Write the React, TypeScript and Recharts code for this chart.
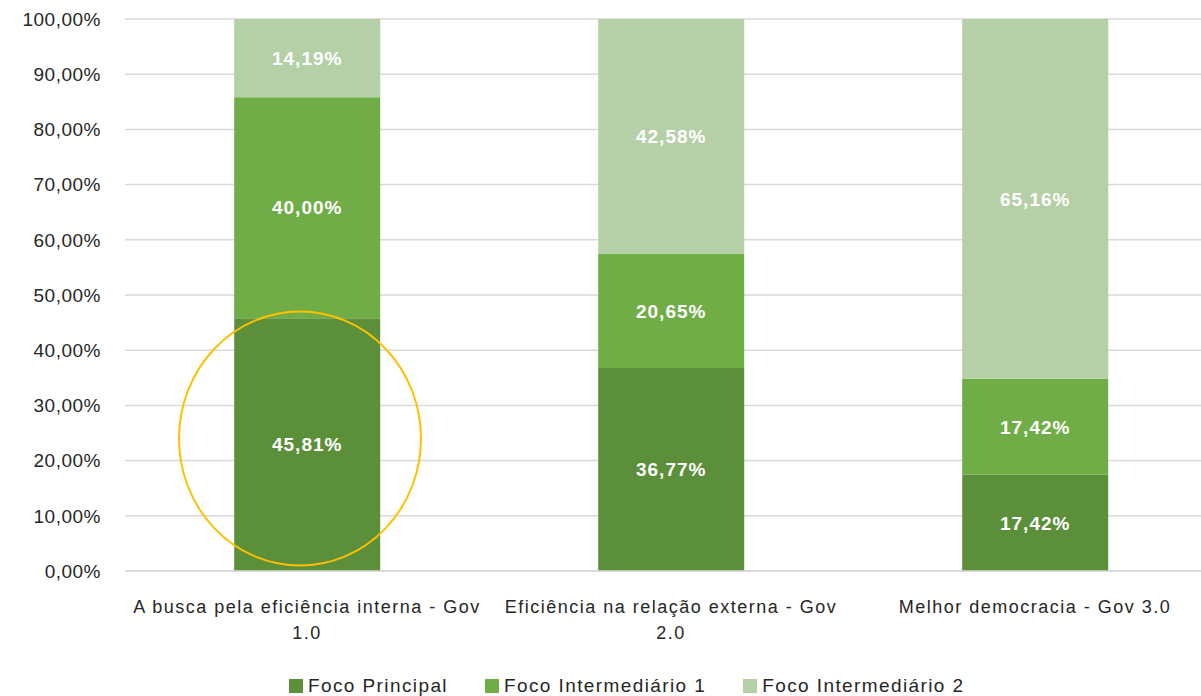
import React from 'react';
import { BarChart, Bar, XAxis, YAxis, CartesianGrid, Legend, LabelList, ReferenceDot } from 'recharts';

const categories = [
  ['A busca pela eficiência interna - Gov', '1.0'],
  ['Eficiência na relação externa - Gov', '2.0'],
  ['Melhor democracia - Gov 3.0'],
];
const focoPrincipal = [45.81, 36.77, 17.42];
const focoIntermediario1 = [40.0, 20.65, 17.42];
const focoIntermediario2 = [14.19, 42.58, 65.16];
const yTicks = [0, 10, 20, 30, 40, 50, 60, 70, 80, 90, 100];

const series = [
  { key: 'principal', name: 'Foco Principal', color: '#5B8F3A' },
  { key: 'inter1', name: 'Foco Intermediário 1', color: '#70AD47' },
  { key: 'inter2', name: 'Foco Intermediário 2', color: '#B5D0A6' },
];

const data = categories.map((lines, i) => ({
  name: lines.join(' '),
  lines,
  principal: focoPrincipal[i],
  inter1: focoIntermediario1[i],
  inter2: focoIntermediario2[i],
}));

const FONT = '"Liberation Sans", Arial, sans-serif';
const TEXT = '#262626';

const pct = (v: number) => v.toFixed(2).replace('.', ',') + '%';

const CategoryTick = ({ x, y, payload }: any) => {
  const row = data.find((d) => d.name === payload.value);
  const lines = row ? row.lines : [payload.value];
  return (
    <g transform={`translate(${x},${y})`}>
      {lines.map((l: string, i: number) => (
        <text
          key={i}
          x={0}
          y={34 + i * 26}
          textAnchor="middle"
          fill={TEXT}
          fontSize={18}
          letterSpacing={1.5}
          fontFamily={FONT}
        >
          {l}
        </text>
      ))}
    </g>
  );
};

// legend drawn by hand so the spacing matches the original
const LegendContent = () => (
  <div
    style={{
      display: 'flex',
      justifyContent: 'flex-start',
      gap: 37,
      fontFamily: FONT,
      fontSize: 19,
      letterSpacing: 1.4,
      lineHeight: '20px',
      marginTop: 10,
      color: TEXT,
      paddingLeft: 289,
    }}
  >
    {series.map((s) => (
      <div key={s.key} style={{ display: 'flex', alignItems: 'center', gap: 5 }}>
        <span style={{ width: 14, height: 14, background: s.color, display: 'inline-block' }} />
        <span>{s.name}</span>
      </div>
    ))}
  </div>
);

const Highlight = (props: any) => {
  const { cx, cy } = props;
  if (cx == null || cy == null) return null;
  return <ellipse cx={cx - 7} cy={cy} rx={121} ry={127} fill="none" stroke="#FFC000" strokeWidth={2} />;
};

export default function App() {
  return (
    <div
      style={{
        position: 'fixed',
        top: 0,
        left: 0,
        background: '#fff',
        width: 1201,
        height: 696,
        overflow: 'hidden',
      }}
    >
      <BarChart
        width={1217}
        height={696}
        data={data}
        margin={{ top: 19, right: 0, left: 0, bottom: 0 }}
        barCategoryGap="30%"
      >
        <CartesianGrid vertical={false} stroke="#D9D9D9" strokeWidth={1.5} />
        <XAxis
          dataKey="name"
          height={95}
          tickLine={false}
          axisLine={{ stroke: '#D9D9D9', strokeWidth: 1.5 }}
          interval={0}
          tick={<CategoryTick />}
        />
        <YAxis
          width={125}
          domain={[0, 100]}
          ticks={yTicks}
          tickFormatter={pct}
          tickLine={false}
          axisLine={false}
          tickSize={0}
          tickMargin={24}
          tick={{ fill: TEXT, fontSize: 19, fontFamily: FONT, letterSpacing: 0.5 }}
        />
        <Legend verticalAlign="bottom" height={30} content={<LegendContent />} />
        {series.map((s) => (
          <Bar key={s.key} dataKey={s.key} name={s.name} stackId="a" fill={s.color} isAnimationActive={false}>
            <LabelList
              dataKey={s.key}
              position="center"
              formatter={(v: any) => pct(Number(v))}
              fill="#FFFFFF"
              fontSize={19}
              fontWeight="bold"
              letterSpacing={1}
              fontFamily={FONT}
            />
          </Bar>
        ))}
        <ReferenceDot x={data[0].name} y={24} r={1} shape={<Highlight />} ifOverflow="visible" />
      </BarChart>
    </div>
  );
}
